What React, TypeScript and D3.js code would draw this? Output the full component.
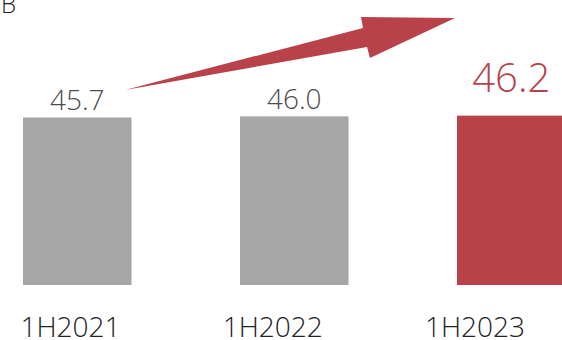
import React from "react";
import * as d3 from "d3";

const categories = ["1H2021", "1H2022", "1H2023"];
const values = [45.7, 46.0, 46.2];
const highlight = [false, false, true];
const valueLabels = ["45.7", "46.0", "46.2"];
const cornerLabel = "B";

const W = 562;
const H = 340;
const RED = "#b8414a";
const GRAY = "#a6a6a6";
const FONT = "'Open Sans', 'Noto Sans', sans-serif";

export default function App() {
  const x = d3.scaleBand<string>().domain(categories).range([23, 565.5]).paddingInner(0.5).paddingOuter(0);
  const y = d3.scaleLinear().domain([0, 50]).range([285, 285 - 183.3]);
  const xl = d3.scalePoint<string>().domain(categories).range([70.5, 475]);

  const arrow: [number, number][] = [
    [125, 90],
    [363, 28],
    [361, 17],
    [455, 18],
    [370, 58],
    [367, 47],
  ];
  const arrowPath = d3.line()(arrow) + "Z";

  return (
    <svg
      width={W}
      height={H}
      style={{ position: "absolute", left: 0, top: 0, background: "#fff" }}
      fontFamily={FONT}
    >
      <text x={1} y={13} fontSize={24} fill="#222" fontWeight={300}>
        {cornerLabel}
      </text>
      {categories.map((c, i) => (
        <rect
          key={c}
          x={x(c)}
          y={y(values[i])}
          width={x.bandwidth()}
          height={y(0) - y(values[i])}
          fill={highlight[i] ? RED : GRAY}
        />
      ))}
      {categories.map((c, i) => (
        <text
          key={"v" + c}
          x={(x(c) as number) + x.bandwidth() / 2}
          y={highlight[i] ? y(values[i]) - 24 : y(values[i]) - 7.5}
          textAnchor="middle"
          fontSize={highlight[i] ? 40 : 28}
          fontWeight={300}
          fill={highlight[i] ? RED : "#4d4d4d"}
        >
          {valueLabels[i]}
        </text>
      ))}
      {categories.map((c) => (
        <text
          key={"l" + c}
          x={xl(c)}
          y={337}
          textAnchor="middle"
          fontSize={28}
          fontWeight={300}
          fill="#222"
        >
          {c}
        </text>
      ))}
      <path d={arrowPath} fill={RED} />
    </svg>
  );
}
